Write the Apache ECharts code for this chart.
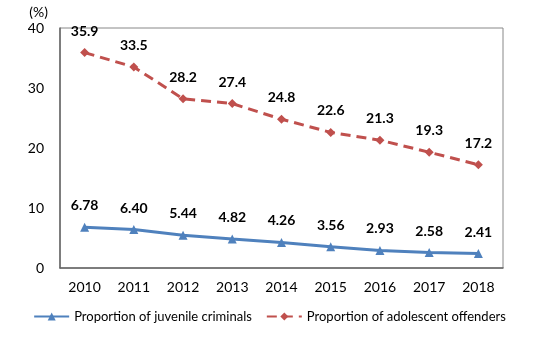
<!DOCTYPE html>
<html>
<head>
<meta charset="utf-8">
<script src="https://cdn.jsdelivr.net/npm/echarts@6/dist/echarts.min.js"></script>
<style>
  html, body { margin: 0; padding: 0; background: #fff; }
  #chart { width: 539px; height: 349px; }
</style>
</head>
<body>
<div id="chart"></div>
<script>
const years = ['2010', '2011', '2012', '2013', '2014', '2015', '2016', '2017', '2018'];
const juvenile = [6.78, 6.40, 5.44, 4.82, 4.26, 3.56, 2.93, 2.58, 2.41];
const adolescent = [35.9, 33.5, 28.2, 27.4, 24.8, 22.6, 21.3, 19.3, 17.2];
const yTicks = [0, 10, 20, 30, 40];

const font = 'Lato, Open Sans, Liberation Sans, sans-serif';
const chart = echarts.init(document.getElementById('chart'));

chart.setOption({
  animation: false,
  textStyle: { fontFamily: font },
  grid: {
    left: 60, top: 28, right: 36, bottom: 81,
    show: true, borderColor: '#888', borderWidth: 1
  },
  legend: {
    bottom: 21,
    left: 'center',
    itemWidth: 35,
    itemHeight: 10,
    itemGap: 14,
    textStyle: { fontSize: 13, color: '#000', fontFamily: font },
    data: ['Proportion of juvenile criminals', 'Proportion of adolescent offenders']
  },
  xAxis: {
    type: 'category',
    data: years,
    boundaryGap: true,
    axisLine: { lineStyle: { color: '#666', width: 1.5 } },
    axisTick: { show: false },
    axisLabel: { color: '#000', fontSize: 14, margin: 12, fontFamily: font }
  },
  yAxis: {
    type: 'value',
    min: yTicks[0],
    max: yTicks[yTicks.length - 1],
    interval: 10,
    name: '(%)',
    nameLocation: 'end',
    nameGap: 9,
    nameTextStyle: { color: '#000', fontSize: 14, align: 'right', padding: [0, 12, 0, 0], fontFamily: font },
    axisLine: { show: true, lineStyle: { color: '#666', width: 1.5 } },
    axisTick: { show: false },
    splitLine: { show: false },
    axisLabel: { color: '#000', fontSize: 14, margin: 16, fontFamily: font }
  },
  series: [
    {
      name: 'Proportion of juvenile criminals',
      type: 'line',
      data: juvenile,
      symbol: 'triangle',
      symbolSize: 9,
      itemStyle: { color: '#4F81BD' },
      lineStyle: { color: '#4F81BD', width: 3 },
      label: {
        show: true, position: 'top', distance: 10,
        color: '#000', fontWeight: 'bold', fontSize: 14, fontFamily: font,
        formatter: p => p.value.toFixed(2)
      }
    },
    {
      name: 'Proportion of adolescent offenders',
      type: 'line',
      data: adolescent,
      symbol: 'diamond',
      symbolSize: 9,
      itemStyle: { color: '#C0504D' },
      lineStyle: { color: '#C0504D', width: 3, type: [10, 6] },
      label: {
        show: true, position: 'top', distance: 10,
        color: '#000', fontWeight: 'bold', fontSize: 14, fontFamily: font,
        formatter: p => p.value.toFixed(1)
      }
    }
  ]
});
</script>
</body>
</html>
